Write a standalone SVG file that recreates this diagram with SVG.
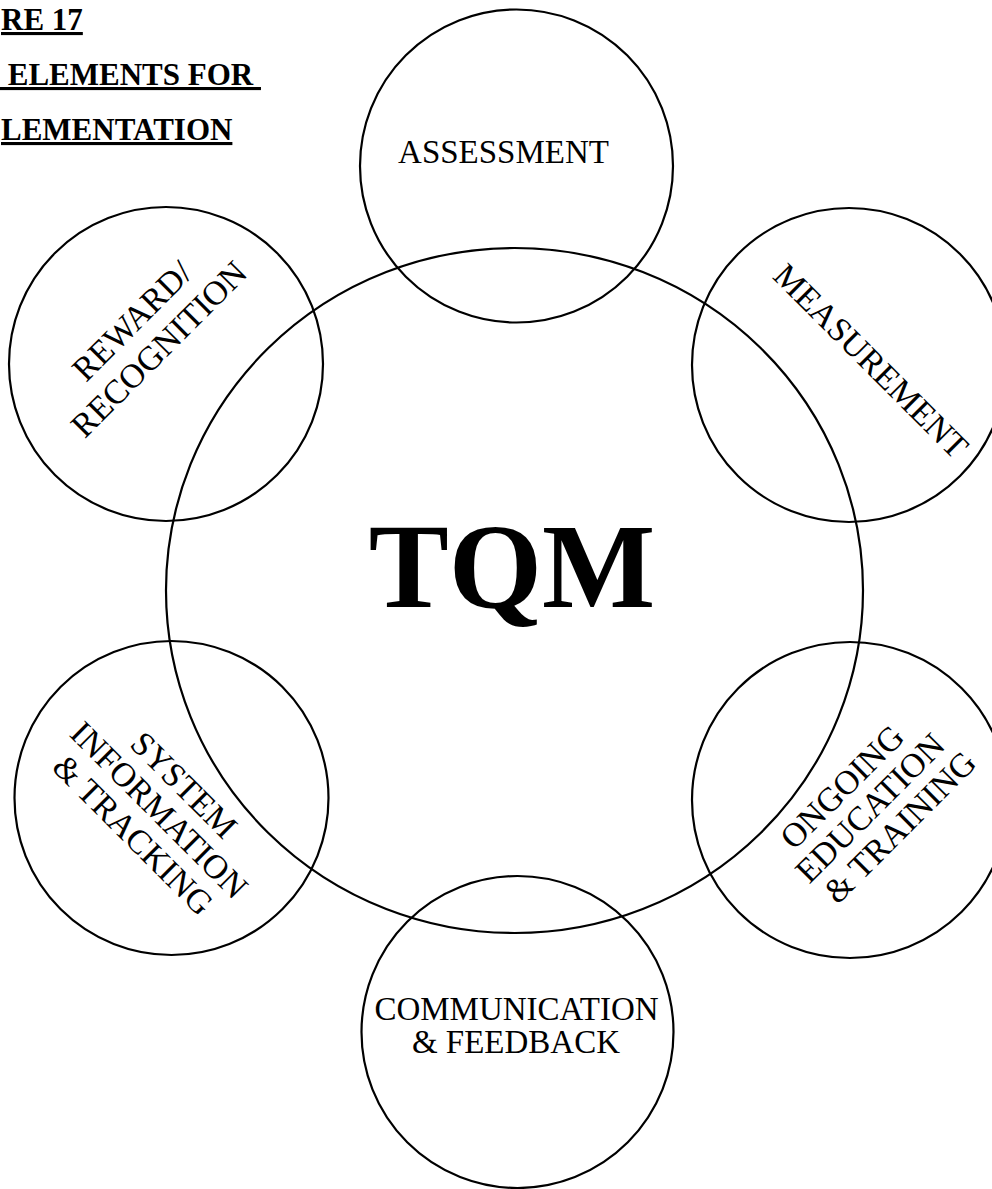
<svg xmlns="http://www.w3.org/2000/svg" width="992" height="1189" viewBox="0 0 992 1189">
<style>
.c{fill:none;stroke:#000;stroke-width:2.2}
.t{font-family:"Liberation Serif","Times New Roman",serif;fill:#000}
.lbl{font-size:34px;text-anchor:middle}
.title{font-family:"Liberation Serif","Times New Roman",serif;font-weight:bold;font-size:31px;text-decoration:underline;white-space:pre}
</style>
<rect width="992" height="1189" fill="#fff"/>
<g id="title">
<text class="title" x="1" y="30" font-size="32">RE 17</text>
<text class="title" x="0" y="85" xml:space="preserve"> ELEMENTS FOR </text>
<text class="title" x="1" y="140" font-size="30">LEMENTATION</text>
</g>
<g id="tqm">
<ellipse class="c" cx="514.5" cy="590.5" rx="348.5" ry="342.5"/>
<text class="t" x="512" y="607" font-size="120" font-weight="bold" text-anchor="middle" fill="#1a1a1a">TQM</text>
</g>
<g id="assessment">
<circle class="c" cx="516.5" cy="166" r="156.5"/>
<text class="t" x="503.5" y="163" font-size="33" text-anchor="middle">ASSESSMENT</text>
</g>
<g id="measurement">
<circle class="c" cx="849" cy="365" r="157"/>
<text class="t lbl" transform="translate(863,369) rotate(45)">MEASUREMENT</text>
</g>
<g id="reward">
<circle class="c" cx="166" cy="364" r="157"/>
<text class="t lbl" transform="translate(140,329) rotate(-45)">REWARD/</text>
<text class="t lbl" transform="translate(167,357) rotate(-45)">RECOGNITION</text>
</g>
<g id="system">
<circle class="c" cx="171.5" cy="798" r="157"/>
<text class="t lbl" transform="translate(176,793) rotate(45)">SYSTEM</text>
<text class="t lbl" transform="translate(151,818) rotate(45)">INFORMATION</text>
<text class="t lbl" transform="translate(125,843) rotate(45)">&amp; TRACKING</text>
</g>
<g id="ongoing">
<circle class="c" cx="850" cy="800" r="158"/>
<text class="t lbl" transform="translate(850,795) rotate(-45)">ONGOING</text>
<text class="t lbl" transform="translate(878,816) rotate(-45)">EDUCATION</text>
<text class="t lbl" transform="translate(908,835) rotate(-45)">&amp; TRAINING</text>
</g>
<g id="communication">
<circle class="c" cx="517.5" cy="1032" r="156"/>
<text class="t" x="516.5" y="1020" font-size="33" text-anchor="middle">COMMUNICATION</text>
<text class="t" x="516" y="1053" font-size="33" text-anchor="middle">&amp; FEEDBACK</text>
</g>
<g id="connectors"></g>
</svg>
